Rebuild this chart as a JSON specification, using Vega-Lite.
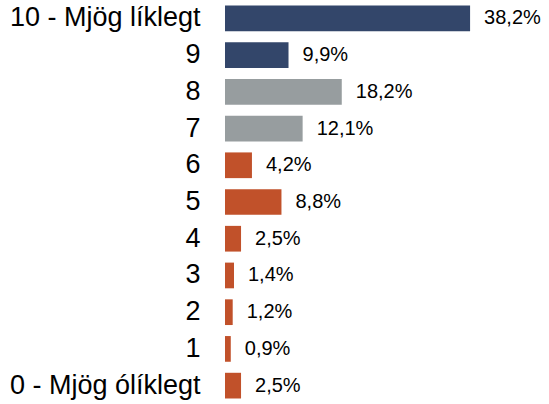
{
  "$schema": "https://vega.github.io/schema/vega-lite/v6.json",
  "width": 324,
  "height": 404,
  "autosize": "none",
  "padding": {"left": 225, "top": 0, "right": 0, "bottom": 0},
  "background": "white",
  "config": {"view": {"stroke": null}, "font": "Liberation Sans"},
  "data": {"values": [
    {"cat": "10 - Mjög líklegt", "value": 38.2, "label": "38,2%", "group": "hi"},
    {"cat": "9", "value": 9.9, "label": "9,9%", "group": "hi"},
    {"cat": "8", "value": 18.2, "label": "18,2%", "group": "mid"},
    {"cat": "7", "value": 12.1, "label": "12,1%", "group": "mid"},
    {"cat": "6", "value": 4.2, "label": "4,2%", "group": "lo"},
    {"cat": "5", "value": 8.8, "label": "8,8%", "group": "lo"},
    {"cat": "4", "value": 2.5, "label": "2,5%", "group": "lo"},
    {"cat": "3", "value": 1.4, "label": "1,4%", "group": "lo"},
    {"cat": "2", "value": 1.2, "label": "1,2%", "group": "lo"},
    {"cat": "1", "value": 0.9, "label": "0,9%", "group": "lo"},
    {"cat": "0 - Mjög ólíklegt", "value": 2.5, "label": "2,5%", "group": "lo"}
  ]},
  "encoding": {
    "y": {"field": "cat", "type": "nominal", "sort": null,
      "scale": {"paddingInner": 0.3, "paddingOuter": 0.15},
      "axis": {"title": null, "ticks": false, "domain": false, "labelPadding": 25, "labelLimit": 300,
        "labelFontSize": 27, "labelColor": "#000000", "labelFont": "Liberation Sans"}},
    "x": {"field": "value", "type": "quantitative", "scale": {"domain": [0, 50.5]}, "axis": null}
  },
  "layer": [
    {"mark": {"type": "bar"},
     "encoding": {"color": {"field": "group", "type": "nominal",
       "scale": {"domain": ["hi", "mid", "lo"], "range": ["#33466A", "#979D9F", "#C1512A"]}, "legend": null}}},
    {"mark": {"type": "text", "align": "left", "baseline": "middle", "dx": 14, "fontSize": 20, "color": "#000000", "font": "Liberation Sans"},
     "encoding": {"text": {"field": "label"}}}
  ]
}
